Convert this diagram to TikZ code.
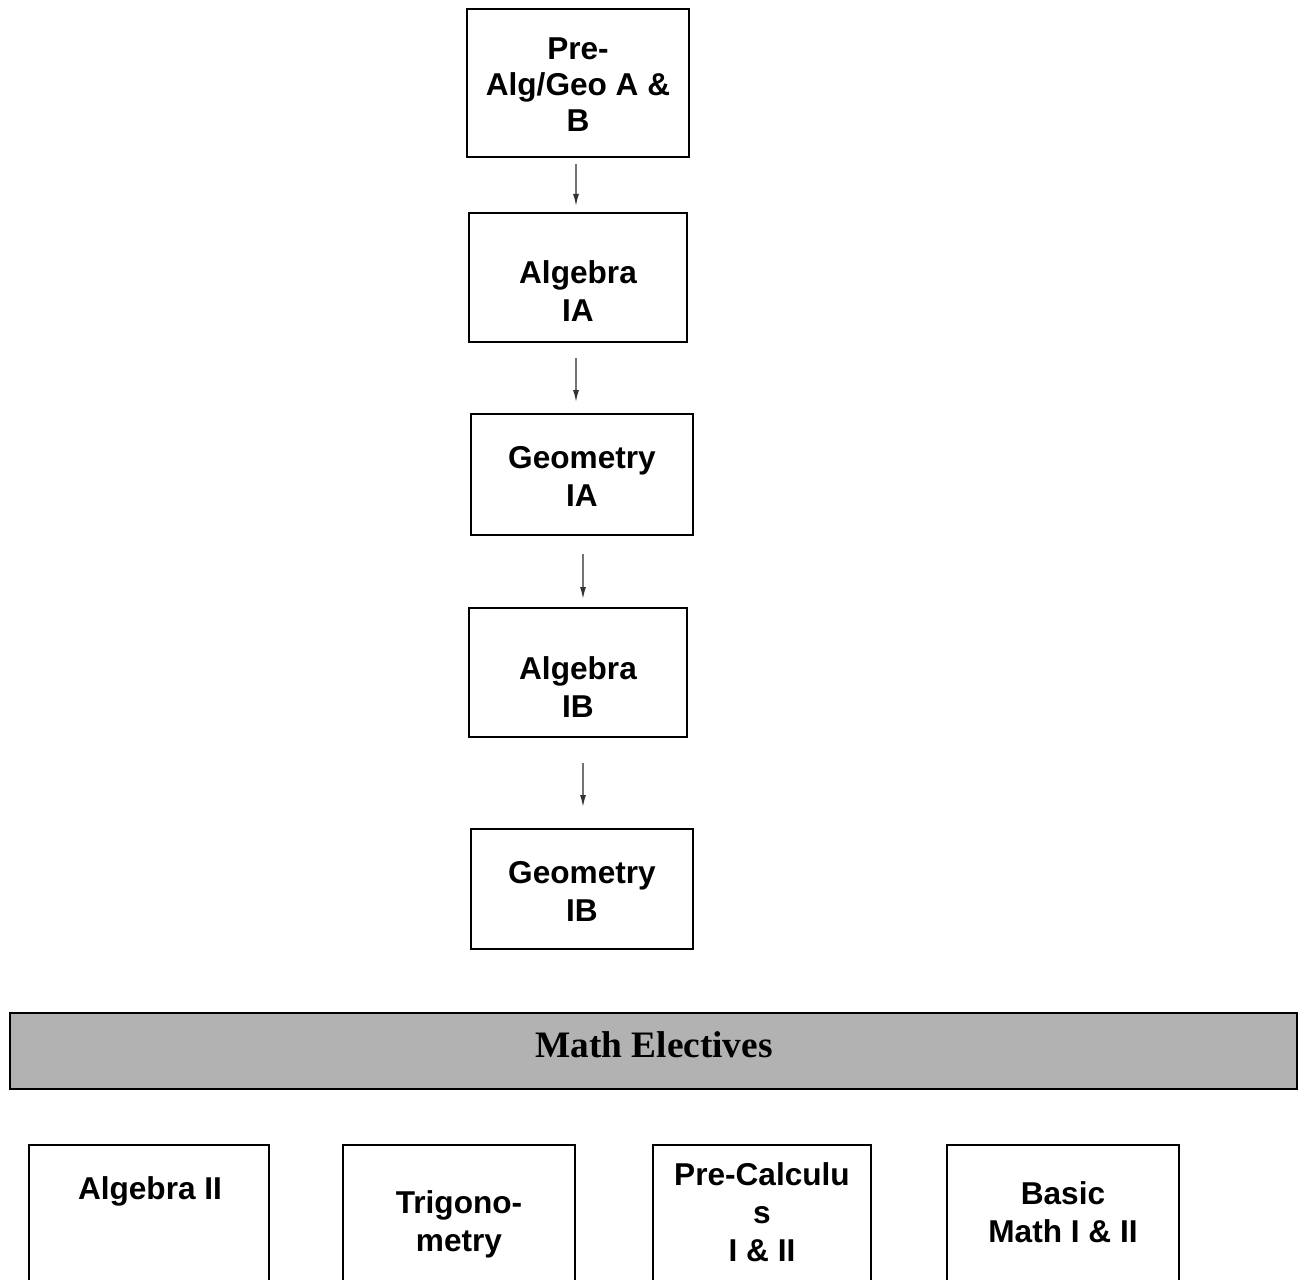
\documentclass[tikz,border=0pt]{standalone}
\usepackage{fontspec}
\setmainfont{Liberation Sans}
\newfontfamily\bannerfont{Liberation Serif}
\usetikzlibrary{arrows.meta}

\tikzset{
  course/.style={draw,line width=1.5pt,inner sep=0pt},
  label/.style={inner sep=0pt,align=center,font=\bfseries\fontsize{23.7}{28.5}\selectfont},
  link/.style={draw=black!55,line width=1.1pt,-{Latex[length=9pt,width=4.5pt,color=black!80]}}
}

\begin{document}
\begin{tikzpicture}[x=0.75pt,y=-0.75pt]
\useasboundingbox (0,0) rectangle (1299,1280);
\clip (0,0) rectangle (1299,1280);
% sequence
\node[course,minimum width=166.5pt,minimum height=111pt] (prealg) at (578,83) {};
\node[course,minimum width=163.5pt,minimum height=96.75pt] (algIA) at (578,277.5) {};
\node[course,minimum width=166.5pt,minimum height=90.75pt] (geoIA) at (582,474.5) {};
\node[course,minimum width=163.5pt,minimum height=96.75pt] (algIB) at (578,672.5) {};
\node[course,minimum width=166.5pt,minimum height=90pt] (geoIB) at (582,889) {};
\node[label,font=\bfseries\fontsize{23.7}{27}\selectfont] (prealgtxt) at (578,85) {Pre-\\Alg/Geo A \&\\B};
\node[label] (algIAtxt) at (578,291.5) {Algebra\\IA};
\node[label] (geoIAtxt) at (582,476) {Geometry\\IA};
\node[label] (algIBtxt) at (578,687) {Algebra\\IB};
\node[label] (geoIBtxt) at (582,891) {Geometry\\IB};
\draw[link,shorten <=4.5pt,shorten >=4.5pt] (prealg.south) ++(-2,0) coordinate (a1) -- (a1 |- algIA.north);
\draw[link,shorten <=11.25pt,shorten >=8.25pt] (algIA.south) ++(-2,0) coordinate (a2) -- (a2 |- geoIA.north);
\draw[link,shorten <=13.5pt,shorten >=6pt] (geoIA.south) ++(1,0) coordinate (a3) -- (a3 |- algIB.north);
\draw[link,shorten <=18.75pt,shorten >=15.75pt] (algIB.south) ++(5,0) coordinate (a4) -- (a4 |- geoIB.north);
% electives
\node[course,fill=black!30,minimum width=965.25pt,minimum height=57pt] (electives) at (653.5,1051) {};
\node[inner sep=0pt,font=\bannerfont\bfseries\fontsize{28}{32}\selectfont] (electivestxt) at (654,1045) {Math Electives};
\draw[line width=1.5pt] (29,1400) -- (29,1145) -- (269,1145) -- (269,1400);
\draw[line width=1.5pt] (343,1400) -- (343,1145) -- (575,1145) -- (575,1400);
\draw[line width=1.5pt] (653,1400) -- (653,1145) -- (871,1145) -- (871,1400);
\draw[line width=1.5pt] (947,1400) -- (947,1145) -- (1179,1145) -- (1179,1400);
\node[label] (algII) at (150,1191) {Algebra II};
\node[label] (trig) at (459,1224) {Trigono-\\metry};
\node[label] (precalc) at (762,1212) {Pre-Calculu\\s\\I \& II};
\node[label] (basic) at (1063,1212) {Basic\\Math I \& II};
\end{tikzpicture}
\end{document}
